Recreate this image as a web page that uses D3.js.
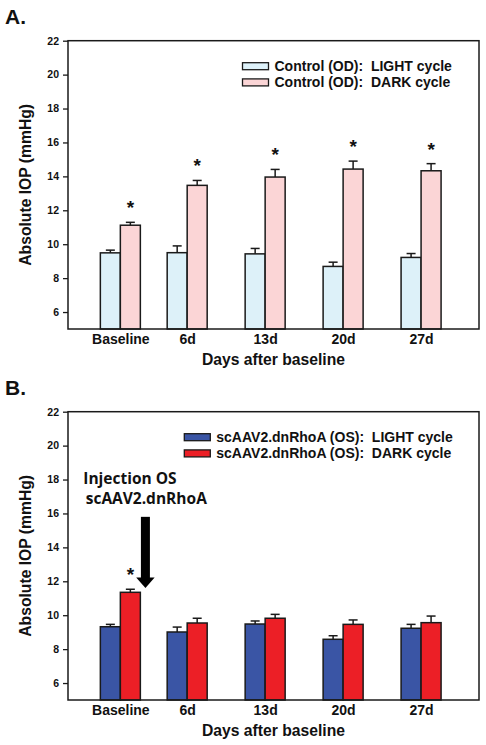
<!DOCTYPE html>
<html><head><meta charset="utf-8">
<script src="https://cdn.jsdelivr.net/npm/d3@7"></script>
<style>
html,body{margin:0;padding:0;background:#fff;}
svg{display:block;}
text{font-family:"Liberation Sans",Arial,sans-serif;font-weight:bold;fill:#111;}
</style></head>
<body>
<svg id="chart" width="486" height="745"></svg>
<script>
// ---------- data ----------
const days = [0, 6, 13, 20, 27];
const dayLabels = ["Baseline", "6d", "13d", "20d", "27d"];
const yTicks = [6, 8, 10, 12, 14, 16, 18, 20, 22];

const ctrlLight = [9.49, 9.50, 9.43, 8.69, 9.22];
const ctrlLightErr = [0.16, 0.40, 0.32, 0.25, 0.23];
const ctrlDark = [11.12, 13.47, 13.96, 14.43, 14.33];
const ctrlDarkErr = [0.17, 0.29, 0.45, 0.47, 0.42];
const ctrlSig = [1, 1, 1, 1, 1];

const rhoLight = [9.32, 9.01, 9.48, 8.58, 9.23];
const rhoLightErr = [0.14, 0.29, 0.18, 0.21, 0.23];
const rhoDark = [11.35, 9.54, 9.82, 9.46, 9.56];
const rhoDarkErr = [0.18, 0.28, 0.23, 0.26, 0.39];
const rhoSig = [1, 0, 0, 0, 0];

const legendA = ["Control (OD):  LIGHT cycle", "Control (OD):  DARK cycle"];
const legendB = ["scAAV2.dnRhoA (OS):  LIGHT cycle", "scAAV2.dnRhoA (OS):  DARK cycle"];
const annotLines = ["Injection OS", "scAAV2.dnRhoA"];
const annotDay = [-3.33, -3.11];
const annotVal = [17.74, 16.54];
const arrowDay = 2.25, arrowFrom = 15.8, arrowTo = 11.6;

// ---------- drawing ----------
const svg = d3.select("#chart");
const stroke = "#1a1a1a";

function panel(cfg) {
  const g = svg.append("g");
  const x = d3.scaleLinear().domain([-4.7, 32.2]).range([68, 479]);
  const y = d3.scaleLinear().domain([5, 22]).range([cfg.bottom, cfg.top]);
  const bw = 20;

  // panel letter
  g.append("text").attr("x", 5).attr("y", cfg.top - 17)
    .style("font-size", "21px").text(cfg.letter);

  // bars
  const series = [
    {vals: cfg.light, err: cfg.lightErr, fill: cfg.colors[0], off: -bw},
    {vals: cfg.dark, err: cfg.darkErr, fill: cfg.colors[1], off: 0}
  ];
  series.forEach(s => {
    const sg = g.append("g");
    sg.selectAll("rect").data(days).enter().append("rect")
      .attr("x", (d) => x(d) + s.off)
      .attr("y", (d, i) => y(s.vals[i]))
      .attr("width", bw)
      .attr("height", (d, i) => y(5) - y(s.vals[i]))
      .attr("fill", s.fill).attr("stroke", stroke).attr("stroke-width", 1.5);
    // error bars (upper)
    sg.selectAll("line.v").data(days).enter().append("line")
      .attr("x1", d => x(d) + s.off + bw / 2).attr("x2", d => x(d) + s.off + bw / 2)
      .attr("y1", (d, i) => y(s.vals[i])).attr("y2", (d, i) => y(s.vals[i] + s.err[i]))
      .attr("stroke", stroke).attr("stroke-width", 1.5);
    sg.selectAll("line.c").data(days).enter().append("line")
      .attr("x1", d => x(d) + s.off + bw / 2 - 4.5).attr("x2", d => x(d) + s.off + bw / 2 + 4.5)
      .attr("y1", (d, i) => y(s.vals[i] + s.err[i])).attr("y2", (d, i) => y(s.vals[i] + s.err[i]))
      .attr("stroke", stroke).attr("stroke-width", 1.5);
  });

  // asterisks
  g.selectAll("text.star").data(days.filter((d, i) => cfg.sig[i]))
    .enter().append("text")
    .attr("text-anchor", "middle")
    .attr("x", d => x(d) + bw / 2)
    .attr("y", d => { const i = days.indexOf(d); return y(cfg.dark[i] + cfg.darkErr[i]) - 8; })
    .style("font-size", "19px").text("*");

  // frame
  g.append("rect").attr("x", x.range()[0]).attr("y", cfg.top)
    .attr("width", x.range()[1] - x.range()[0]).attr("height", cfg.bottom - cfg.top)
    .attr("fill", "none").attr("stroke", stroke).attr("stroke-width", 1.5);

  // y axis
  const ya = g.append("g").attr("transform", `translate(${x.range()[0]},0)`)
    .call(d3.axisLeft(y).tickValues(yTicks).tickSize(5).tickSizeOuter(0).tickPadding(4));
  ya.select(".domain").remove();
  ya.selectAll("line").attr("stroke", stroke).attr("stroke-width", 1.3);
  ya.selectAll("text").style("font-size", "10.5px").attr("fill", "#111")
    .style("font-family", '"Liberation Sans",Arial,sans-serif').style("font-weight", "bold");

  // x axis
  const xa = g.append("g").attr("transform", `translate(0,${cfg.bottom})`)
    .call(d3.axisBottom(x).tickValues(days).tickFormat((d, i) => dayLabels[i]).tickSize(0).tickPadding(5));
  xa.select(".domain").remove();
  xa.selectAll("text").style("font-size", "14px").attr("fill", "#111")
    .style("font-family", '"Liberation Sans",Arial,sans-serif').style("font-weight", "bold");

  // axis titles
  g.append("text").attr("x", (x.range()[0] + x.range()[1]) / 2).attr("y", cfg.bottom + 36)
    .attr("text-anchor", "middle").style("font-size", "15.7px").text("Days after baseline");
  g.append("text").attr("transform", `translate(31,${(cfg.top + cfg.bottom) / 2}) rotate(-90)`)
    .attr("text-anchor", "middle").style("font-size", "15.7px").text("Absolute IOP (mmHg)");

  // legend
  const step = 16.2;
  const lg = g.append("g").attr("transform", `translate(${cfg.legX},${cfg.top + 22})`);
  cfg.legend.forEach((t, i) => {
    lg.append("rect").attr("x", 0).attr("y", i * step).attr("width", 26).attr("height", 7)
      .attr("fill", cfg.colors[i]).attr("stroke", stroke).attr("stroke-width", 1.3);
    lg.append("text").attr("x", 32).attr("y", i * step + 8.3)
      .style("font-size", "14px").style("white-space", "pre").text(t);
  });
  return {g, x, y};
}

panel({letter: "A.", top: 40.7, bottom: 329,
  light: ctrlLight, lightErr: ctrlLightErr, dark: ctrlDark, darkErr: ctrlDarkErr, sig: ctrlSig,
  colors: ["#ddf1f9", "#fbd5d6"], legend: legendA, legX: 242.5});

const pb = panel({letter: "B.", top: 411.7, bottom: 700,
  light: rhoLight, lightErr: rhoLightErr, dark: rhoDark, darkErr: rhoDarkErr, sig: rhoSig,
  colors: ["#3a55a5", "#ec1f26"], legend: legendB, legX: 184.3});

// annotation in panel B
annotLines.forEach((t, i) => {
  pb.g.append("text").attr("x", pb.x(annotDay[i])).attr("y", pb.y(annotVal[i]))
    .style("font-family", '"Open Sans","Noto Sans",sans-serif').style("font-weight", "bold")
    .style("font-size", "15.5px").text(t);
});
const ax = pb.x(arrowDay);
const headTop = pb.y(arrowTo) - 10.5;
pb.g.append("rect").attr("x", ax - 4.5).attr("y", pb.y(arrowFrom))
  .attr("width", 9).attr("height", headTop - pb.y(arrowFrom) + 1).attr("fill", "#000");
pb.g.append("path")
  .attr("d", `M${ax - 9.2},${headTop} L${ax + 9.2},${headTop} L${ax},${pb.y(arrowTo)} Z`)
  .attr("fill", "#000");
</script>
</body></html>
